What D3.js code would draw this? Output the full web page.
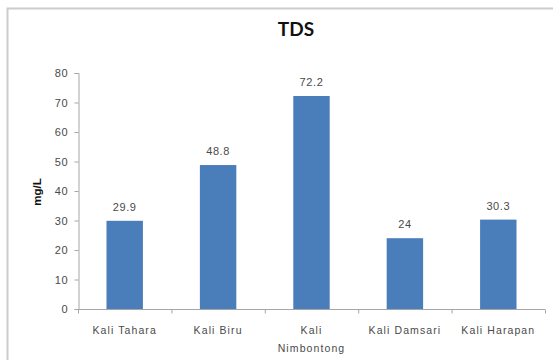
<!DOCTYPE html>
<html>
<head>
<meta charset="utf-8">
<script src="https://cdn.jsdelivr.net/npm/d3@7"></script>
<style>
  html, body { margin: 0; padding: 0; background: #ffffff; }
  svg { display: block; }
</style>
</head>
<body>
<svg id="chart" width="553" height="360"></svg>
<script>
// TDS readings per river site (mg/L)
const categories = ["Kali Tahara", "Kali Biru", "Kali Nimbontong", "Kali Damsari", "Kali Harapan"];
const values = [29.9, 48.8, 72.2, 24, 30.3];
const valueLabels = ["29.9", "48.8", "72.2", "24", "30.3"];
const yTicks = [0, 10, 20, 30, 40, 50, 60, 70, 80];
const titleText = "TDS";
const yAxisTitle = "mg/L";

const svg = d3.select("#chart");
const W = 553, H = 360;
const plotLeft = 78, plotRight = 545;

// chart frame
svg.append("rect").attr("x", 0).attr("y", 0).attr("width", W).attr("height", H).attr("fill", "#ffffff");
svg.append("path")
  .attr("d", `M7.5,${H} V8.5 H${W}`)
  .attr("fill", "none").attr("stroke", "#cccccc").attr("stroke-width", 2);

const x = d3.scaleBand().domain(categories).range([plotLeft, plotRight]).padding(0);
const y = d3.scaleLinear().domain([0, 80]).range([309, 73]);

const font = "'Liberation Sans', Arial, sans-serif";
const labelColor = "#4a4a4a";

// y axis
const yAxis = d3.axisLeft(y).tickValues(yTicks).tickSize(4).tickPadding(6);
const gy = svg.append("g").attr("transform", `translate(${plotLeft + 0.5},0)`).call(yAxis);
gy.select(".domain").attr("stroke", "#a6a6a6");
gy.selectAll(".tick line").attr("stroke", "#a6a6a6");
gy.selectAll(".tick text").attr("font-family", font).attr("font-size", 11)
  .attr("letter-spacing", 0.8).attr("fill", labelColor);

// x axis with tick marks at category boundaries
const gx = svg.append("g").attr("transform", `translate(0,${y(0) + 0.5})`);
gx.append("line").attr("x1", plotLeft).attr("x2", plotRight).attr("stroke", "#a6a6a6");
const bounds = categories.map(c => x(c)).concat([plotRight]);
gx.selectAll("line.tk").data(bounds).join("line").attr("class", "tk")
  .attr("x1", d => d + 0.5).attr("x2", d => d + 0.5).attr("y1", 0).attr("y2", 4)
  .attr("stroke", "#a6a6a6");

// bars
const barFrac = 0.39;
svg.selectAll("rect.bar").data(values).join("rect").attr("class", "bar")
  .attr("x", (d, i) => x(categories[i]) + x.bandwidth() * (1 - barFrac) / 2)
  .attr("width", x.bandwidth() * barFrac)
  .attr("y", d => y(d))
  .attr("height", d => y(0) - y(d))
  .attr("fill", "#4a7ebb");

// value labels
svg.selectAll("text.val").data(values).join("text").attr("class", "val")
  .attr("x", (d, i) => x(categories[i]) + x.bandwidth() / 2)
  .attr("y", d => y(d) - 10)
  .attr("text-anchor", "middle")
  .attr("font-family", font).attr("font-size", 11).attr("letter-spacing", 0.6)
  .attr("fill", labelColor)
  .text((d, i) => valueLabels[i]);

// category labels, wrapped when wider than the band
svg.selectAll("text.cat").data(categories).join("text").attr("class", "cat")
  .attr("x", d => x(d) + x.bandwidth() / 2)
  .attr("y", 334)
  .attr("text-anchor", "middle")
  .attr("font-family", font).attr("font-size", 10.5).attr("letter-spacing", 1.1)
  .attr("fill", labelColor)
  .each(function(d) {
    const t = d3.select(this);
    const lines = d === "Kali Nimbontong" ? ["Kali", "Nimbontong"] : [d];
    lines.forEach((ln, k) => {
      t.append("tspan").attr("x", x(d) + x.bandwidth() / 2).attr("dy", k === 0 ? 0 : 18).text(ln);
    });
  });

// title
svg.append("text").attr("x", 296).attr("y", 36).attr("text-anchor", "middle")
  .attr("font-family", "Lato, 'Open Sans', sans-serif").attr("font-weight", "bold")
  .attr("font-size", 19).attr("fill", "#111111").text(titleText);

// y axis title
svg.append("text").attr("transform", "translate(41,192) rotate(-90)")
  .attr("text-anchor", "middle")
  .attr("font-family", font).attr("font-weight", "bold")
  .attr("font-size", 11.5).attr("fill", "#111111").text(yAxisTitle);
</script>
</body>
</html>
